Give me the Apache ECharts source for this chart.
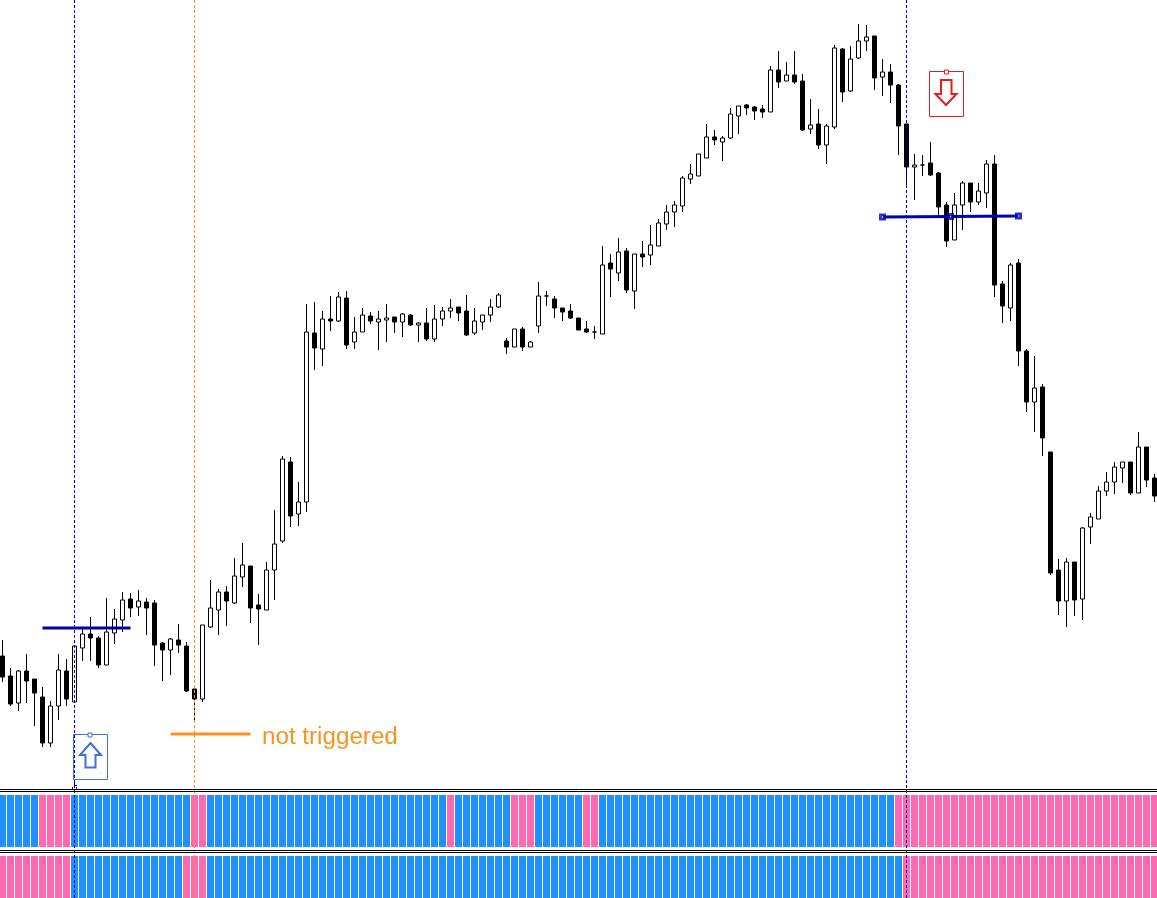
<!DOCTYPE html>
<html><head><meta charset="utf-8">
<style>html,body{margin:0;padding:0;background:#fff;overflow:hidden}#c{width:1157px;height:898px}</style>
<script src="https://cdn.jsdelivr.net/npm/echarts@6/dist/echarts.min.js"></script>
</head><body><div id="c"></div>
<script>
const opens = [
242,222,195,227,219,201,155,192,227,196,
250,264,260,233,265,278,299,291,296,295,
255,248,258,252,209,199,271,288,306,295,
321,332,293,288,328,357,436,384,396,565,
549,579,577,600,556,566,582,576,578,581,
576,583,573,575,559,579,587,591,587,565,
576,583,591,557,551,569,551,572,602,599,
590,587,580,569,566,564,635,625,647,607,
644,643,652,674,686,692,719,722,740,761,
756,760,782,793,791,789,786,828,817,823,
817,769,774,753,771,849,807,840,857,862,
821,826,813,774,731,733,735,725,693,658,
693,715,696,705,734,614,590,635,547,496,
511,446,328,297,336,299,371,379,407,416,
430,436,405,451,420];
const closes = [
221,194,227,217,205,155,192,228,199,252,
264,260,233,266,279,298,290,297,290,253,
248,259,253,207,199,273,290,306,297,322,
333,290,289,328,354,439,382,396,566,550,
579,577,601,553,566,583,577,579,580,576,
584,573,575,559,579,587,590,585,563,577,
583,591,603,551,569,551,556,602,602,590,
586,580,568,566,566,633,629,646,608,644,
641,653,675,686,693,720,724,744,761,758,
760,784,792,790,787,786,828,816,823,816,
768,773,753,772,850,806,839,857,861,820,
826,813,772,731,733,733,723,691,657,693,
715,696,707,734,613,592,633,547,496,510,
460,325,297,336,298,370,381,407,416,431,
436,405,451,418,402];
const lows = [
216,192,187,195,172,151,151,178,192,196,
237,237,230,233,254,266,281,282,263,232,
217,223,245,206,175,196,270,263,272,294,
311,275,253,288,298,355,371,372,386,528,
532,567,576,549,549,566,574,548,556,565,
561,572,556,557,556,572,580,577,562,563,
568,576,590,544,551,547,551,565,592,580,
577,579,568,565,559,564,601,617,605,589,
631,633,652,668,671,686,714,722,740,753,
737,759,764,783,778,780,786,810,817,814,
767,764,749,734,769,796,806,839,847,808,
802,795,743,713,698,722,722,681,651,658,
668,686,693,690,601,575,577,532,486,466,
442,323,283,271,282,278,354,379,402,404,
415,403,405,411,396];
const highs = [
258,230,228,244,219,211,197,244,239,252,
270,281,262,300,289,306,305,308,300,298,
256,260,274,256,209,273,318,309,312,340,
355,332,304,336,388,442,441,416,594,596,
587,602,606,607,581,590,586,587,594,581,
585,584,576,590,593,591,599,591,603,590,
583,599,605,560,569,571,557,616,607,602,
590,594,580,577,572,652,644,660,650,644,
657,673,679,693,697,722,734,744,774,768,
762,790,792,794,792,793,832,847,836,847,
824,799,789,774,853,850,852,874,873,862,
839,834,814,774,744,743,756,726,696,705,
717,715,715,738,743,617,635,639,549,542,
514,446,339,340,336,371,385,412,426,436,
436,436,466,451,424];
const trendA = [1,1,1,1,1,0,0,0,0,1,
1,1,1,1,1,1,1,1,1,1,
1,1,1,1,0,0,1,1,1,1,
1,1,1,1,1,1,1,1,1,1,
1,1,1,1,1,1,1,1,1,1,
1,1,1,1,1,1,0,1,1,1,
1,1,1,1,0,0,0,1,1,1,
1,1,1,0,0,1,1,1,1,1,
1,1,1,1,1,1,1,1,1,1,
1,1,1,1,1,1,1,1,1,1,
1,1,1,1,1,1,1,1,1,1,
1,1,0,0,0,0,0,0,0,0,
0,0,0,0,0,0,0,0,0,0,
0,0,0,0,0,0,0,0,0,0,
0,0,0,0,0];
const trendB = [0,0,0,0,0,0,0,0,0,1,
1,1,1,1,1,1,1,1,1,1,
1,1,1,0,0,0,1,1,1,1,
1,1,1,1,1,1,1,1,1,1,
1,1,1,1,1,1,1,1,1,1,
1,1,1,1,1,1,1,1,1,1,
1,1,1,1,1,1,1,1,1,1,
1,1,1,1,1,1,1,1,1,1,
1,1,1,1,1,1,1,1,1,1,
1,1,1,1,1,1,1,1,1,1,
1,1,1,1,1,1,1,1,1,1,
1,1,1,0,0,0,0,0,0,0,
0,0,0,0,0,0,0,0,0,0,
0,0,0,0,0,0,0,0,0,0,
0,0,0,0,0];
const blueSignals = [9, 113];
const orangeSignals = [24];
const levelUp = [[5,270],[16,270]];
const levelDown = [[110,681],[127,682]];
const levelDownHandles = [[110,681],[118.5,681.5],[127,682]];
const levelMissed = [[21,164],[31,164]];
const noteText = 'not triggered';

const cats = opens.map((_, i) => String(i));
const candles = opens.map((o, i) => [o, closes[i], lows[i], highs[i]]);
const BLUE = '#1E90FF', PINK = '#FF69B4', NAVY = '#0000B4', ORANGE = '#F7931E', LBLUE = '#3F6FD8', RED = '#E0201C';
const barData = a => a.map(v => ({value:1, itemStyle:{color: v ? BLUE : PINK}}));
const W = 1160, L = -1.5;
const cat = g => ({type:'category', gridIndex:g, data:cats, boundaryGap:true, show:false});
const rule = y => ({type:'line', silent:true, z:20, shape:{x1:0,y1:y,x2:1157,y2:y}, style:{stroke:'#000',lineWidth:1}});
const box = (x,y,w,h,c) => ({type:'rect', silent:true, z:30, shape:{x,y,width:w,height:h}, style:{fill:'rgba(255,255,255,0)',stroke:c,lineWidth:1}});
const handle = (x,y,c) => ({type:'rect', silent:true, z:31, shape:{x,y,width:4,height:4}, style:{fill:'#fff',stroke:c,lineWidth:1}});
const arrow = (pts,c) => ({type:'polygon', silent:true, z:31, shape:{points:pts}, style:{fill:'#fff',stroke:c,lineWidth:2,lineJoin:'miter'}});

const option = {
  animation:false, backgroundColor:'#fff',
  grid:[
    {left:L, top:0, width:W, height:898, outerBoundsMode:'none'},
    {left:L, top:795, width:W, height:52, outerBoundsMode:'none'},
    {left:L, top:856, width:W, height:42, outerBoundsMode:'none'}
  ],
  xAxis:[
    cat(0),
    {type:'value', gridIndex:0, min:-0.5, max:144.5, show:false},
    cat(1), cat(2)
  ],
  yAxis:[
    {type:'value', gridIndex:0, min:0, max:898, show:false},
    {type:'value', gridIndex:1, min:0, max:1, show:false},
    {type:'value', gridIndex:2, min:0, max:1, show:false}
  ],
  series:[
    {type:'bar', xAxisIndex:2, yAxisIndex:1, data:barData(trendA), barWidth:7, silent:true, z:1},
    {type:'bar', xAxisIndex:3, yAxisIndex:2, data:barData(trendB), barWidth:7, silent:true, z:1},
    {type:'candlestick', xAxisIndex:0, yAxisIndex:0, data:candles, barWidth:4, silent:true, z:3,
      itemStyle:{color:'#fff', color0:'#000', borderColor:'#000', borderColor0:'#000', borderColorDoji:'#000', borderWidth:1}},
    {type:'line', xAxisIndex:1, yAxisIndex:0, data:levelUp, symbol:'none', silent:true, z:6, lineStyle:{color:NAVY,width:3}},
    {type:'line', xAxisIndex:1, yAxisIndex:0, data:levelDown, symbol:'none', silent:true, z:6, lineStyle:{color:NAVY,width:3}},
    {type:'line', xAxisIndex:1, yAxisIndex:0, data:levelMissed, symbol:'none', silent:true, z:6, lineStyle:{color:ORANGE,width:3}},
    {type:'scatter', xAxisIndex:1, yAxisIndex:0, data:levelDownHandles, symbol:'rect', symbolSize:7, silent:true, z:7, itemStyle:{color:NAVY}},
    {type:'scatter', xAxisIndex:1, yAxisIndex:0, data:levelDownHandles, symbol:'rect', symbolSize:1.5, silent:true, z:8, itemStyle:{color:'#fff'}},
    {type:'line', xAxisIndex:1, yAxisIndex:0, data:[], symbol:'none', silent:true, z:10,
      markLine:{silent:true, symbol:'none', label:{show:false}, animation:false,
        lineStyle:{color:NAVY,width:1,type:[3,2]},
        data:blueSignals.map(k => ({xAxis:k}))}},
    {type:'line', xAxisIndex:1, yAxisIndex:0, data:[], symbol:'none', silent:true, z:10,
      markLine:{silent:true, symbol:'none', label:{show:false}, animation:false,
        lineStyle:{color:ORANGE,width:1,type:[3,2]},
        data:orangeSignals.map(k => ({xAxis:k}))}}
  ],
  graphic:[
    rule(789.5), rule(791.5), rule(850.5), rule(852.5),
    box(73.5,734.5,34,45,LBLUE), handle(88,733,LBLUE),
    arrow([[90.5,743],[101,755],[95.5,755],[95.5,767.5],[85.5,767.5],[85.5,755],[80,755]],LBLUE),
    box(929.5,71.5,34,45,RED), handle(944.5,70,RED),
    arrow([[941,80],[951.5,80],[951.5,94],[956.5,94],[946,105],[935.5,94],[941,94]],RED),
    {type:'polyline', silent:true, z:31, shape:{points:[[74.5,783],[74.5,785.5],[77,785.5]]}, style:{stroke:NAVY,lineWidth:1,fill:'none'}},
    {type:'polyline', silent:true, z:31, shape:{points:[[72.5,787],[72.5,789]]}, style:{stroke:NAVY,lineWidth:1,fill:'none'}},
    {type:'polyline', silent:true, z:31, shape:{points:[[76.5,787],[76.5,789]]}, style:{stroke:NAVY,lineWidth:1,fill:'none'}},
    {type:'text', silent:true, z:31, x:262, y:725, style:{text:noteText, fill:ORANGE, font:'24.2px "Liberation Sans", Arial, sans-serif'}}
  ]
};
const chart = echarts.init(document.getElementById('c'), null, {renderer:'canvas', width:1157, height:898});
chart.setOption(option);
</script></body></html>
